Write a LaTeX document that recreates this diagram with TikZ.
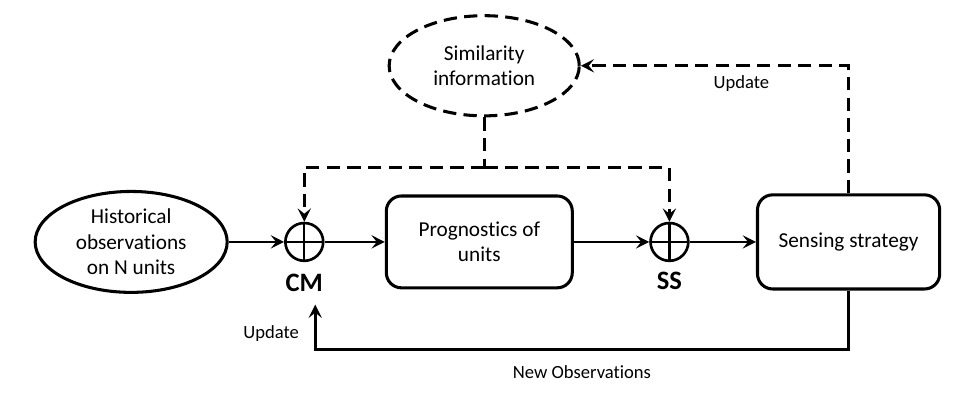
\documentclass[tikz,border=0pt]{standalone}
\usepackage{fontspec}
\setmainfont{Carlito}[Ligatures=NoCommon]
\usetikzlibrary{arrows.meta,shapes.geometric}

\begin{document}
\begin{tikzpicture}[
  block/.style={rectangle, draw, rounded corners=0.4cm, line width=2.3pt, inner sep=0pt, align=center},
  blob/.style={ellipse, draw, line width=2.3pt, inner sep=0pt, align=center},
  sum/.style={circle, draw, line width=2pt, minimum size=1cm, inner sep=0pt,
    path picture={\draw[line width=1.8pt] (path picture bounding box.north) -- (path picture bounding box.south)
      (path picture bounding box.west) -- (path picture bounding box.east);}},
  tag/.style={font=\fontsize{20}{24}\selectfont\bfseries},
  flow/.style={line width=2pt, -{Stealth[length=10pt, width=10pt, inset=4pt]}},
  dashflow/.style={flow, dash pattern=on 10pt off 5.5pt},
  lbl/.style={font=\fontsize{14}{17}\selectfont},
  font=\fontsize{16}{19}\selectfont
]
\useasboundingbox (0,0) rectangle (25.45,10.45);

\node[blob, minimum width=5.08cm, minimum height=2.67cm] (hist) at (3.47,4.05) {Historical\\observations\\on N units};
\node[sum, right of=hist, node distance=4.58cm] (cm) {};
\node[block, right of=cm, node distance=4.63cm, minimum width=4.92cm, minimum height=2.43cm] (prog) {Prognostics of\\units};
\node[sum, right of=prog, node distance=5.03cm] (ss) {};
\node[block, right of=ss, node distance=4.74cm, minimum width=4.82cm, minimum height=2.49cm] (sens) {Sensing strategy};
\node[blob, dash pattern=on 10pt off 5.5pt, above of=prog, node distance=4.66cm, xshift=0.13cm,
  minimum width=5.03cm, minimum height=2.65cm] (sim) {Similarity\\information};

\node[tag, below of=cm, node distance=1.08cm] (cmtag) {CM};
\node[tag, below of=ss, node distance=1.03cm] (sstag) {SS};

\coordinate[below of=sim, node distance=2.7cm] (fork);
\coordinate[below of=sens, node distance=2.84cm] (turn);
\coordinate[right of=cmtag, node distance=0.29cm, yshift=-0.58cm] (back);

\draw[flow] (hist) -- (cm);
\draw[flow] (cm) -- (prog);
\draw[flow] (prog) -- (ss);
\draw[flow] (ss) -- (sens);

\draw[dashflow] (sens.north) |- node[lbl, below=3pt, pos=0.7] {Update} (sim.east);
\draw[dashflow, -] (sim.south) -- (fork);
\draw[dashflow] (fork) -| (cm.north);
\draw[dashflow] (fork) -| (ss.north);

\draw[flow] (sens.south) -- (turn)
  -- node[lbl, below=8pt] {New Observations} (turn -| back)
  -- node[lbl, left=8pt, pos=0.35] {Update} (back);
\end{tikzpicture}
\end{document}
